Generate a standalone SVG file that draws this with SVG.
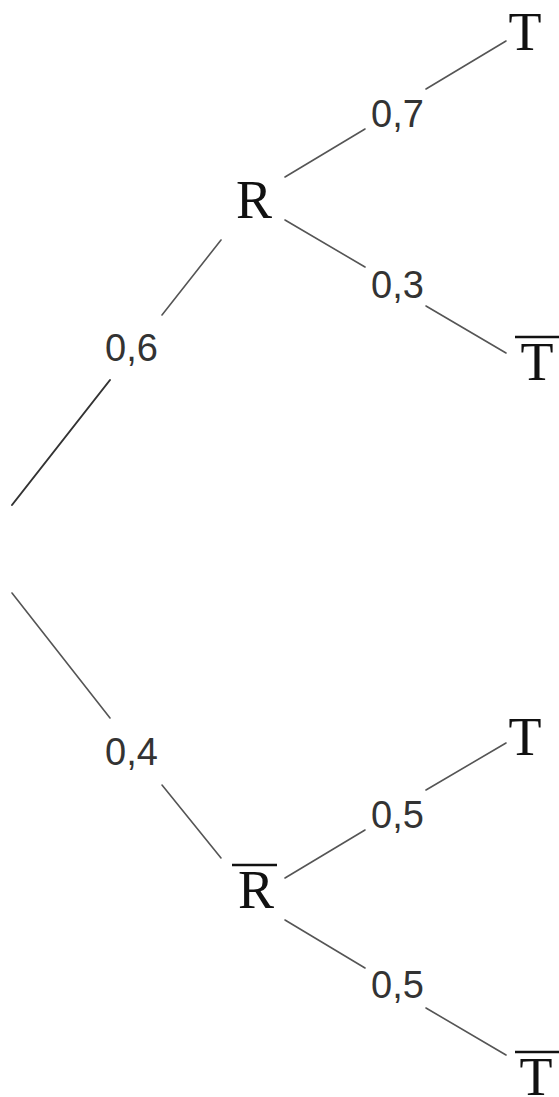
<svg xmlns="http://www.w3.org/2000/svg" width="559" height="1097" viewBox="0 0 559 1097">
<style>
.node{font-family:"Liberation Serif","Times New Roman",serif;font-size:54px;fill:#111}
.lbl{font-family:"Liberation Sans",Arial,sans-serif;font-size:38px;fill:#333}
.edge{stroke:#555;stroke-width:1.6;fill:none;stroke-linecap:round}
.bar{stroke:#111;stroke-width:2.5}
</style>
<rect width="559" height="1097" fill="#fff"/>
<g id="connectors">
<line class="edge" x1="12" y1="505" x2="110" y2="380" style="stroke:#333;stroke-width:2"/>
<line class="edge" x1="162" y1="315" x2="221" y2="240"/>
<line class="edge" x1="285" y1="177" x2="365" y2="129"/>
<line class="edge" x1="426" y1="89" x2="506" y2="41"/>
<line class="edge" x1="285" y1="220" x2="365" y2="267"/>
<line class="edge" x1="426" y1="306" x2="506" y2="353"/>
<line class="edge" x1="12" y1="593" x2="110" y2="718"/>
<line class="edge" x1="162" y1="785" x2="221" y2="858"/>
<line class="edge" x1="285" y1="878" x2="365" y2="830"/>
<line class="edge" x1="426" y1="790" x2="506" y2="743"/>
<line class="edge" x1="285" y1="920" x2="365" y2="968"/>
<line class="edge" x1="426" y1="1008" x2="506" y2="1055"/>
<text class="lbl" x="105" y="361">0,6</text>
<text class="lbl" x="371" y="127">0,7</text>
<text class="lbl" x="371" y="298">0,3</text>
<text class="lbl" x="105" y="765">0,4</text>
<text class="lbl" x="371" y="828">0,5</text>
<text class="lbl" x="371" y="998">0,5</text>
</g>
<g id="node-R"><text class="node" x="254" y="218" text-anchor="middle">R</text></g>
<g id="node-T1"><text class="node" x="525" y="50" text-anchor="middle">T</text></g>
<g id="node-Tbar1"><line class="bar" x1="515" y1="337" x2="559" y2="337"/><text class="node" x="537" y="380" text-anchor="middle">T</text></g>
<g id="node-Rbar"><line class="bar" x1="232" y1="865" x2="277" y2="865"/><text class="node" x="256" y="908" text-anchor="middle">R</text></g>
<g id="node-T2"><text class="node" x="525" y="755" text-anchor="middle">T</text></g>
<g id="node-Tbar2"><line class="bar" x1="515" y1="1052" x2="559" y2="1052"/><text class="node" x="536" y="1095" text-anchor="middle">T</text></g>
</svg>
